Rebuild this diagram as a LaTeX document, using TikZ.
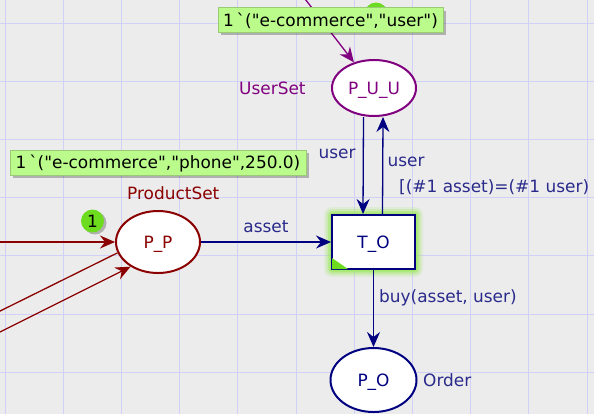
\documentclass[tikz,border=0pt]{standalone}
\usepackage{fontspec}
\newfontfamily\cpnfont{DejaVu Sans}
\usetikzlibrary{arrows.meta,shapes.geometric,calc}
\definecolor{bgc}{HTML}{ECECEC}
\definecolor{gridc}{HTML}{D0D0F8}
\definecolor{cpnnavy}{HTML}{000080}
\definecolor{cpnnavytext}{HTML}{2A2A8C}
\definecolor{cpnpurple}{HTML}{800080}
\definecolor{cpnred}{HTML}{8B0000}
\definecolor{tokboxc}{HTML}{BBFB8C}
\definecolor{tokboxline}{HTML}{9CCB78}
\definecolor{tokdotc}{HTML}{6EDC1E}
\definecolor{glowc}{HTML}{9BE85A}
\tikzset{
  cpntip/.style={-{Stealth[length=15bp,width=13bp,inset=5bp]}},
  arcline/.style={line width=1.3bp},
  placenode/.style={ellipse, line width=2bp, fill=white, inner sep=0pt,
    text height=12.4bp, text depth=0pt},
  transnode/.style={rectangle, line width=2bp, draw=cpnnavy, fill=white, text=cpnnavy,
    inner sep=0pt, minimum width=83bp, minimum height=54bp, text height=12.4bp, text depth=0pt},
  tokbox/.style={rectangle, fill=tokboxc, draw=tokboxline, line width=0.6bp, inner sep=0pt,
    minimum height=25bp, text=black, text height=12.4bp, text depth=0pt},
  tokdot/.style={circle, fill=tokdotc, inner sep=0pt, minimum size=23bp, text=black},
  lbl/.style={inner sep=0pt, anchor=base west}
}
\begin{document}
\begin{tikzpicture}[x=1bp,y=-1bp,font=\cpnfont\fontsize{17}{20}\selectfont]
\useasboundingbox (0,0) rectangle (594,414);
\clip (0,0) rectangle (594,414);
\fill[bgc] (0,0) rectangle (594,414);
\foreach \i in {0,...,10} \draw[gridc,line width=1bp] ({5+58.2*\i},0) -- ({5+58.2*\i},414);
\foreach \j in {0,...,6} \draw[gridc,line width=1bp] (0,{23.3+58.17*\j}) -- (594,{23.3+58.17*\j});

% glow around transition
\foreach \d/\o in {8/0.15,6/0.25,4/0.4,2.5/0.6}
  \fill[glowc,opacity=\o,rounded corners=\d bp] ({332-\d},{215-\d}) rectangle ({415+\d},{269+\d});

% nodes
\node[placenode, draw=cpnpurple, text=cpnpurple, minimum width=84bp, minimum height=56bp] (pu) at (374,88) {P\_U\_U};
\node[placenode, draw=cpnred, text=cpnred, minimum width=84bp, minimum height=62bp] (pp) at (158,242) {P\_P};
\node[placenode, draw=cpnnavy, text=cpnnavy, minimum width=86bp, minimum height=64bp] (po) at (373.5,380) {P\_O};
\node[transnode] (to) at (373.5,242) {T\_O};
\fill[tokdotc] ([shift={(1,-1)}]to.south west) -- ([shift={(1,-12)}]to.south west) -- ([shift={(17,-1)}]to.south west) -- cycle;

% outside coordinates
\coordinate (c0) at (-10,242);
\coordinate (c1) at (-10,316);
\coordinate (c2) at (-10,337);
\coordinate (c3) at (302,-5);

% arcs
\draw[arcline, cpnred, cpntip] (c0) -- (pp.west);
\draw[arcline, cpnred] (pp.195) -- (c1);
\draw[arcline, cpnred, cpntip] (c2) -- (pp.222);
\draw[arcline, cpnpurple, cpntip] (c3) -- (pu.128);
\draw[arcline, cpnnavy, cpntip] (pp.east) -- (to.west);
\draw[arcline, cpnnavy, cpntip] ([xshift=-10.5bp]pu.south) -- ([xshift=-10.5bp]to.north);
\draw[arcline, cpnnavy, cpntip] ([xshift=9bp]to.north) -- ([xshift=9bp]pu.south);
\draw[arcline, cpnnavy, cpntip] (to.south) -- (po.north);

% labels
\node[lbl, text=cpnpurple] (lus) at (239,94) {UserSet};
\node[lbl, text=cpnred] (lps) at (127,199) {ProductSet};
\node[lbl, text=cpnnavytext] (lor) at (423,386) {Order};
\node[lbl, text=cpnnavytext, anchor=base] (las) at (266,232) {asset};
\node[lbl, text=cpnnavytext, anchor=base] (lu1) at (337,158) {user};
\node[lbl, text=cpnnavytext, anchor=base] (lu2) at (406,166) {user};
\node[lbl, text=cpnnavytext] (lgd) at (399,192) {[(\#1 asset)=(\#1 user)};
\node[lbl, text=cpnnavytext] (lbu) at (379,302) {buy(asset, user)};

% tokens
\fill[black,opacity=0.25] (378,16) circle (12);
\node[tokdot] (t1) at (376,14) {};
\fill[black,opacity=0.25] (95,223) circle (11.5);
\node[tokdot] (t2) at (92.5,221) {1};

% token boxes
\fill[black,opacity=0.25] (221,11) rectangle (446,35);
\node[tokbox, minimum width=225bp] (tb1) at (330.5,20) {1\,`("e-commerce","user")};
\fill[black,opacity=0.25] (13,153) rectangle (309,178);
\node[tokbox, minimum width=296bp] (tb2) at (158,162.5) {1\,`("e-commerce","phone",250.0)};
\end{tikzpicture}
\end{document}
